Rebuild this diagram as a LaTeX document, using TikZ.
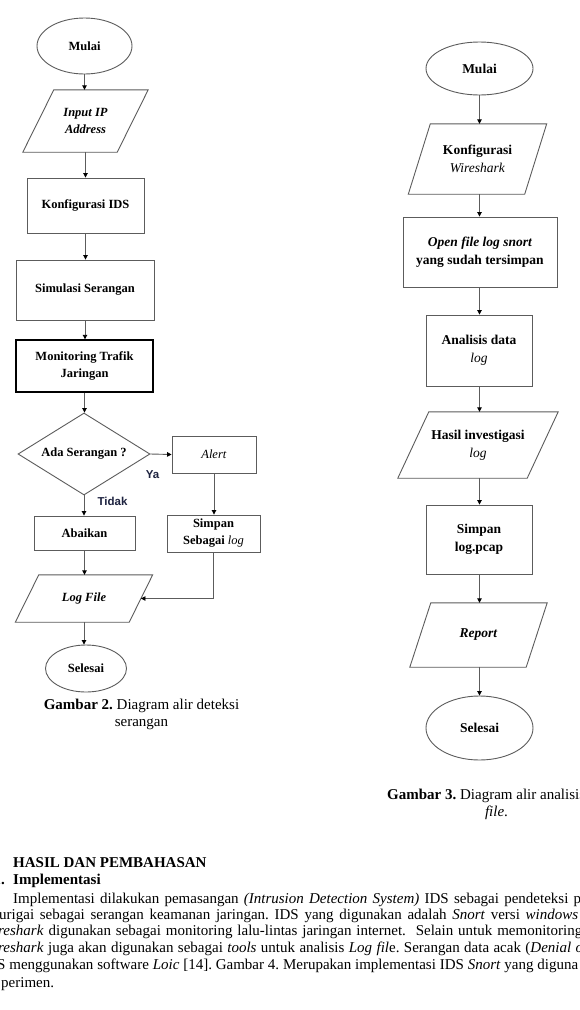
\documentclass[tikz,border=0pt]{standalone}
\usepackage{fontspec}
\setmainfont{Liberation Serif}
\newfontfamily\labelsans{Liberation Sans}
\usetikzlibrary{shapes.geometric,arrows.meta,calc}
\frenchspacing

\definecolor{edge}{HTML}{5C5C5C}
\definecolor{labelink}{HTML}{1E2340}

\tikzset{
  line/.style={draw=edge, line width=0.9pt},
  box/.style={line, rectangle, inner sep=1pt, align=center},
  term/.style={line, ellipse, inner sep=0pt},
  iotext/.style={rectangle, inner sep=1pt, align=center},
  flow/.style={draw=edge, line width=0.9pt, -{Triangle[length=4.5pt,width=4.5pt,color=black]}},
  lt/.style={font=\fontsize{12.5}{17}\selectfont\bfseries},
  rt/.style={font=\fontsize{13.5}{18}\selectfont\bfseries},
  branch/.style={font={\labelsans\fontsize{11.5}{13}\selectfont\bfseries}, text=labelink, inner sep=0pt},
  caption/.style={font=\fontsize{15}{17}\selectfont, inner sep=0pt, align=center},
  body/.style={font=\fontsize{15}{17}\selectfont, inner sep=0pt, anchor=base west},
}

% slanted input/output border around a text node
\newcommand\iobox[2]{%
  \draw[line] ($(#1.north west)+(#2,0)$) -- ($(#1.north east)+(#2,0)$)
    -- ($(#1.south east)-(#2,0)$) -- ($(#1.south west)-(#2,0)$) -- cycle;}

\begin{document}
\begin{tikzpicture}[x=1pt, y=-1pt]
\useasboundingbox (0,0) rectangle (579,1010);
\fill[white] (0,0) rectangle (579,1010);
\clip (0,0) rectangle (579,1010);

% ---------- detection flow ----------
\node[term, lt, minimum width=95pt, minimum height=56pt] (m1) at (84.5,46) {Mulai};
\node[iotext, lt, minimum width=94pt, minimum height=62pt] (in1) at (85.5,121) {\textit{Input IP}\\\textit{Address}};
\iobox{in1}{15.5}
\node[box, lt, minimum width=117pt, minimum height=55pt] (k1) at (85.5,205.5) {Konfigurasi IDS};
\node[box, lt, minimum width=138pt, minimum height=60pt] (s1) at (85,290) {Simulasi Serangan};
\node[box, lt, draw=black, line width=1.4pt, minimum width=137pt, minimum height=52pt] (mon) at (84.5,366)
  {\fontsize{12.5}{16}\selectfont Monitoring Trafik\\Jaringan};
\node[line, diamond, lt, aspect=1.61, inner sep=0pt, minimum width=132pt, minimum height=82pt] (dec) at (84,454) {Ada Serangan ?};
\node[box, lt, minimum width=84pt, minimum height=37pt] (alert) at (214,454.5) {\textmd{\textit{Alert}}};
\node[box, lt, minimum width=101pt, minimum height=34pt] (ab) at (84.5,533) {Abaikan};
\node[box, lt, minimum width=93pt, minimum height=37pt] (sim) at (213.5,533.5) {Simpan\\Sebagai \textmd{\textit{log}}};
\node[iotext, lt, minimum width=113.5pt, minimum height=47pt] (lf) at (84,598.5) {\textit{Log File}};
\iobox{lf}{11.75}
\node[term, lt, minimum width=81pt, minimum height=47pt] (sel) at (86,668.5) {Selesai};

\node[branch] (ya) at (152.5,474.5) {Ya};
\node[branch] (tidak) at (112.5,501.5) {Tidak};

\draw[flow] (m1.south) -- (m1.south |- in1.north);
\draw[flow] (in1.south) -- (in1.south |- k1.north);
\draw[flow] (k1.south) -- (k1.south |- s1.north);
\draw[flow] (s1.south) -- (s1.south |- mon.north);
\draw[flow] (mon.south) -- (mon.south |- dec.north);
\draw[flow] (dec.east) -- (alert.west);
\draw[flow] (dec.south) -- (dec.south |- ab.north);
\draw[flow] (alert.south) -- (alert.south |- sim.north);
\draw[flow] (sim.south) |- (lf.east);
\draw[flow] (ab.south) -- (ab.south |- lf.north);
\draw[flow] (lf.south) -- (lf.south |- sel.north);

\node[caption] (cap2) at (141.5,714) {\textbf{Gambar 2.} Diagram alir deteksi\\serangan};

% ---------- log analysis flow ----------
\node[term, rt, minimum width=107pt, minimum height=53pt] (m2) at (479.5,68.5) {Mulai};
\node[iotext, rt, minimum width=116pt, minimum height=70pt] (kw) at (477.5,159) {Konfigurasi\\\textmd{\textit{Wireshark}}};
\iobox{kw}{11}
\node[box, rt, minimum width=154pt, minimum height=70pt] (of) at (480,252) {\textit{Open file log snort}\\yang sudah tersimpan};
\node[box, rt, minimum width=106pt, minimum height=71pt] (an) at (479,350.5) {Analisis data\\\textmd{\textit{log}}};
\node[iotext, rt, minimum width=129pt, minimum height=66pt] (hi) at (478,445) {Hasil investigasi\\\textmd{\textit{log}}};
\iobox{hi}{15.5}
\node[box, rt, minimum width=106pt, minimum height=69pt] (sp) at (479,539.5) {Simpan\\log.pcap};
\node[iotext, rt, minimum width=116pt, minimum height=64pt] (rp) at (478.5,635) {\textit{Report}};
\iobox{rp}{10.5}
\node[term, rt, minimum width=107pt, minimum height=64pt] (sel2) at (479.5,728) {Selesai};

\draw[flow] (m2.south) -- (m2.south |- kw.north);
\draw[flow] (m2.south |- kw.south) -- (m2.south |- of.north);
\draw[flow] (m2.south |- of.south) -- (m2.south |- an.north);
\draw[flow] (m2.south |- an.south) -- (m2.south |- hi.north);
\draw[flow] (m2.south |- hi.south) -- (m2.south |- sp.north);
\draw[flow] (m2.south |- sp.south) -- (m2.south |- rp.north);
\draw[flow] (m2.south |- rp.south) -- (m2.south |- sel2.north);

\node[caption, anchor=west] (cap3) at (387,796) {\textbf{Gambar 3.} Diagram alir analisis log};
\node[caption] (cap3b) at (496.5,813) {\textit{file}.};

% ---------- running text ----------
\node[body, font=\fontsize{15}{17}\selectfont\bfseries] (sec) at (13,867) {HASIL DAN PEMBAHASAN};
\node[body, font=\fontsize{15}{17}\selectfont\bfseries] (subn) at (-6.5,884) {1.};
\node[body, font=\fontsize{15}{17}\selectfont\bfseries] (sub) at (13,884) {Implementasi};
\node[body] (l1) at (13,903) {\makebox[568pt][s]{Implementasi dilakukan pemasangan \textit{(Intrusion Detection System)} IDS sebagai pendeteksi p}};
\node[body] (l2) at (-1,919) {\makebox[579pt][s]{urigai sebagai serangan keamanan jaringan. IDS yang digunakan adalah \textit{Snort} versi \textit{windows}}};
\node[body] (l3) at (-2,935.5) {\makebox[584pt][s]{\textit{reshark} digunakan sebagai monitoring lalu-lintas jaringan internet.\ \ Selain untuk memonitoring}};
\node[body] (l4) at (-2,952) {\makebox[585pt][s]{\textit{reshark} juga akan digunakan sebagai \textit{tools} untuk analisis \textit{Log fil}e. Serangan data acak (\textit{Denial o}}};
\node[body] (l5) at (-3,969.5) {\makebox[581pt][s]{S menggunakan software \textit{Loic} [14]. Gambar 4. Merupakan implementasi IDS \textit{Snort} yang diguna}};
\node[body] (l6) at (1,987) {perimen.};
\end{tikzpicture}
\end{document}
